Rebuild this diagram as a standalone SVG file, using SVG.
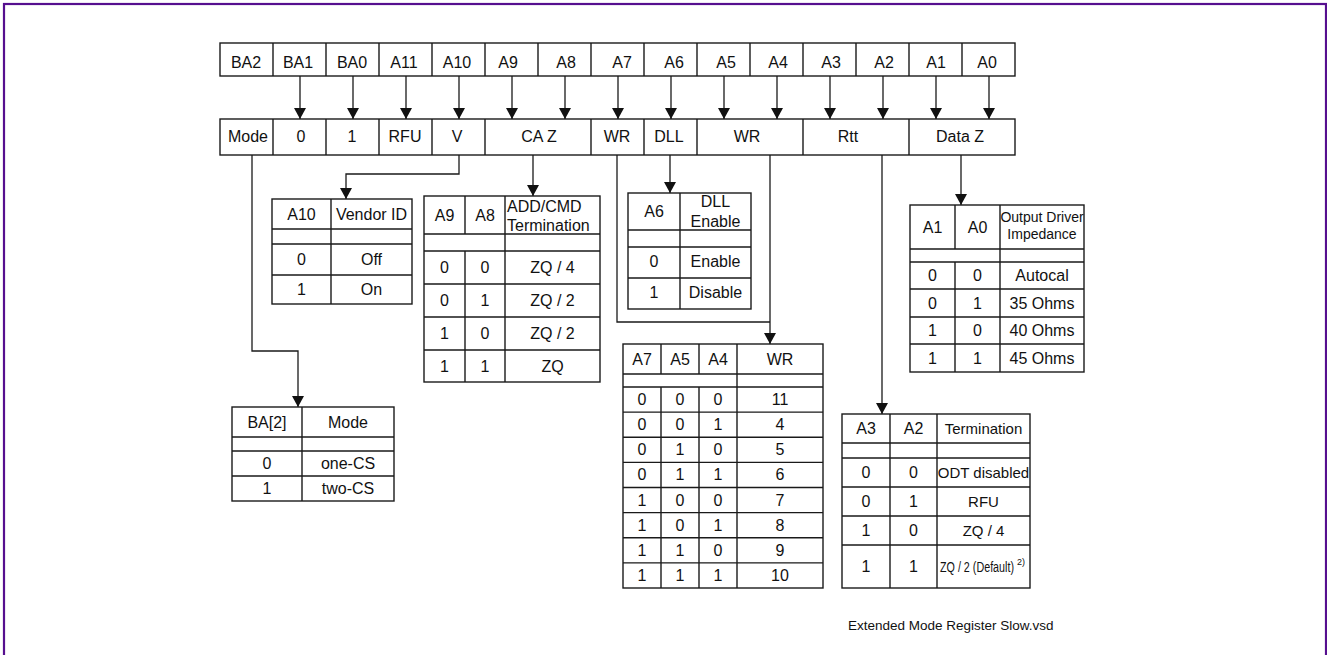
<svg xmlns="http://www.w3.org/2000/svg" width="1327" height="655" viewBox="0 0 1327 655">
<style>
.t{font-family:"Liberation Sans",Arial,sans-serif;font-size:16px;fill:#111;text-anchor:middle}
.ts{font-family:"Liberation Sans",Arial,sans-serif;font-size:16px;fill:#111;text-anchor:start}
.sm{font-size:15px}
.hd{font-size:14px}
.ft{font-family:"Liberation Sans",Arial,sans-serif;font-size:13.5px;fill:#111}
.b{fill:#fff;stroke:#1a1a1a;stroke-width:1.4}
.l{fill:none;stroke:#1a1a1a;stroke-width:1.4}
.c{fill:none;stroke:#1a1a1a;stroke-width:1.3}
.ca{fill:none;stroke:#1a1a1a;stroke-width:1.3;marker-end:url(#ah)}
</style>
<defs>
<marker id="ah" viewBox="0 0 11 12" refX="11" refY="6" markerWidth="11" markerHeight="12" markerUnits="userSpaceOnUse" orient="auto">
<path d="M0,0 L11,6 L0,12 z" fill="#111"/>
</marker>
</defs>
<rect width="1327" height="655" fill="#fff"/>
<rect x="4" y="4" width="1322" height="700" fill="none" stroke="#560f8f" stroke-width="2.2"/>

<g id="address-row">
<rect class="b" x="220" y="43" width="795" height="33"/>
<path class="l" d="M273,43V76M326,43V76M379,43V76M432,43V76M485,43V76M538,43V76M591,43V76M644,43V76M697,43V76M750,43V76M803,43V76M856,43V76M909,43V76M962,43V76"/>
<text class="t" x="246" y="68">BA2</text>
<text class="t" x="298" y="68">BA1</text>
<text class="t" x="352" y="68">BA0</text>
<text class="t" x="404" y="68">A11</text>
<text class="t" x="457" y="68">A10</text>
<text class="t" x="508" y="68">A9</text>
<text class="t" x="566" y="68">A8</text>
<text class="t" x="622" y="68">A7</text>
<text class="t" x="674" y="68">A6</text>
<text class="t" x="726" y="68">A5</text>
<text class="t" x="778" y="68">A4</text>
<text class="t" x="831" y="68">A3</text>
<text class="t" x="884" y="68">A2</text>
<text class="t" x="936" y="68">A1</text>
<text class="t" x="987" y="68">A0</text>
</g>

<g id="function-row">
<rect class="b" x="220" y="119" width="795" height="36"/>
<path class="l" d="M273,119V155M326,119V155M379,119V155M432,119V155M485,119V155M591,119V155M644,119V155M697,119V155M803,119V155M909,119V155"/>
<text class="t" x="248" y="142">Mode</text>
<text class="t" x="301" y="142">0</text>
<text class="t" x="352" y="142">1</text>
<text class="t" x="405" y="142">RFU</text>
<text class="t" x="457" y="142">V</text>
<text class="t" x="539" y="142">CA Z</text>
<text class="t" x="617" y="142">WR</text>
<text class="t" x="669" y="142">DLL</text>
<text class="t" x="747" y="142">WR</text>
<text class="t" x="848" y="142">Rtt</text>
<text class="t" x="960" y="142">Data Z</text>
</g>

<g id="connectors">
<path class="ca" d="M300,76V119"/>
<path class="ca" d="M353,76V119"/>
<path class="ca" d="M406,76V119"/>
<path class="ca" d="M459,76V119"/>
<path class="ca" d="M512,76V119"/>
<path class="ca" d="M565,76V119"/>
<path class="ca" d="M618,76V119"/>
<path class="ca" d="M671,76V119"/>
<path class="ca" d="M724,76V119"/>
<path class="ca" d="M777,76V119"/>
<path class="ca" d="M830,76V119"/>
<path class="ca" d="M883,76V119"/>
<path class="ca" d="M936,76V119"/>
<path class="ca" d="M989,76V119"/>
<path class="ca" d="M252,155V351H298V407"/>
<path class="ca" d="M459,155V174H346V199"/>
<path class="ca" d="M533,155V196"/>
<path class="c" d="M617,155V322H770"/>
<path class="ca" d="M770,155V344"/>
<path class="ca" d="M670,155V193"/>
<path class="ca" d="M882,155V414"/>
<path class="ca" d="M961,155V205"/>
</g>

<g id="vendor-table">
<rect class="b" x="272" y="199" width="140" height="105"/>
<path class="l" d="M272,229H412M272,244H412M272,275H412M331,199V304"/>
<text class="t" x="301.5" y="220">A10</text>
<text class="t" x="371.5" y="220">Vendor ID</text>
<text class="t" x="301.5" y="265">0</text>
<text class="t" x="371.5" y="265">Off</text>
<text class="t" x="301.5" y="295">1</text>
<text class="t" x="371.5" y="295">On</text>
</g>

<g id="addcmd-table">
<rect class="b" x="424" y="196" width="176" height="186"/>
<path class="l" d="M424,234H600M424,251H600M424,284H600M424,317H600M424,350H600M465,196V234M465,251V382M505,196V382"/>
<text class="t" x="444.5" y="221">A9</text>
<text class="t" x="485" y="221">A8</text>
<text class="ts" x="507" y="212">ADD/CMD</text>
<text class="ts" x="507" y="231">Termination</text>
<text class="t" x="444.5" y="273">0</text><text class="t" x="485" y="273">0</text><text class="t" x="552.5" y="273">ZQ / 4</text>
<text class="t" x="444.5" y="306">0</text><text class="t" x="485" y="306">1</text><text class="t" x="552.5" y="306">ZQ / 2</text>
<text class="t" x="444.5" y="339">1</text><text class="t" x="485" y="339">0</text><text class="t" x="552.5" y="339">ZQ / 2</text>
<text class="t" x="444.5" y="372">1</text><text class="t" x="485" y="372">1</text><text class="t" x="552.5" y="372">ZQ</text>
</g>

<g id="dll-table">
<rect class="b" x="628" y="193" width="123" height="116"/>
<path class="l" d="M628,230H751M628,247H751M628,278H751M680,193V309"/>
<text class="t" x="654" y="217">A6</text>
<text class="t" x="715.5" y="207">DLL</text>
<text class="t" x="715.5" y="227">Enable</text>
<text class="t" x="654" y="267">0</text><text class="t" x="715.5" y="267">Enable</text>
<text class="t" x="654" y="298">1</text><text class="t" x="715.5" y="298">Disable</text>
</g>

<g id="wr-table">
<rect class="b" x="623" y="344" width="200" height="244"/>
<path class="l" d="M623,374H823M623,387H823M623,412.1H823M623,437.3H823M623,462.4H823M623,487.5H823M623,512.6H823M623,537.8H823M623,562.9H823M661,344V374M661,387V588M699,344V374M699,387V588M737,344V588"/>
<text class="t" x="642" y="365">A7</text>
<text class="t" x="680" y="365">A5</text>
<text class="t" x="718" y="365">A4</text>
<text class="t" x="780" y="365">WR</text>
<text class="t" x="642" y="405">0</text><text class="t" x="680" y="405">0</text><text class="t" x="718" y="405">0</text><text class="t" x="780" y="405">11</text>
<text class="t" x="642" y="430">0</text><text class="t" x="680" y="430">0</text><text class="t" x="718" y="430">1</text><text class="t" x="780" y="430">4</text>
<text class="t" x="642" y="455">0</text><text class="t" x="680" y="455">1</text><text class="t" x="718" y="455">0</text><text class="t" x="780" y="455">5</text>
<text class="t" x="642" y="480">0</text><text class="t" x="680" y="480">1</text><text class="t" x="718" y="480">1</text><text class="t" x="780" y="480">6</text>
<text class="t" x="642" y="506">1</text><text class="t" x="680" y="506">0</text><text class="t" x="718" y="506">0</text><text class="t" x="780" y="506">7</text>
<text class="t" x="642" y="531">1</text><text class="t" x="680" y="531">0</text><text class="t" x="718" y="531">1</text><text class="t" x="780" y="531">8</text>
<text class="t" x="642" y="556">1</text><text class="t" x="680" y="556">1</text><text class="t" x="718" y="556">0</text><text class="t" x="780" y="556">9</text>
<text class="t" x="642" y="581">1</text><text class="t" x="680" y="581">1</text><text class="t" x="718" y="581">1</text><text class="t" x="780" y="581">10</text>
</g>

<g id="mode-table">
<rect class="b" x="232" y="407" width="162" height="94"/>
<path class="l" d="M232,437H394M232,451H394M232,476H394M302,407V501"/>
<text class="t" x="267" y="428">BA[2]</text>
<text class="t" x="348" y="428">Mode</text>
<text class="t" x="267" y="469">0</text><text class="t" x="348" y="469">one-CS</text>
<text class="t" x="267" y="494">1</text><text class="t" x="348" y="494">two-CS</text>
</g>

<g id="driver-table">
<rect class="b" x="910" y="205" width="174" height="167"/>
<path class="l" d="M910,249H1084M910,262H1084M910,289H1084M910,317H1084M910,344H1084M955,205V249M955,262V372M1000,205V372"/>
<text class="t" x="932.5" y="233">A1</text>
<text class="t" x="977.5" y="233">A0</text>
<text class="t hd" x="1042" y="222">Output Driver</text>
<text class="t hd" x="1042" y="239">Impedance</text>
<text class="t" x="932.5" y="281">0</text><text class="t" x="977.5" y="281">0</text><text class="t" x="1042" y="281">Autocal</text>
<text class="t" x="932.5" y="309">0</text><text class="t" x="977.5" y="309">1</text><text class="t" x="1042" y="309">35 Ohms</text>
<text class="t" x="932.5" y="336">1</text><text class="t" x="977.5" y="336">0</text><text class="t" x="1042" y="336">40 Ohms</text>
<text class="t" x="932.5" y="364">1</text><text class="t" x="977.5" y="364">1</text><text class="t" x="1042" y="364">45 Ohms</text>
</g>

<g id="rtt-table">
<rect class="b" x="842" y="414" width="188" height="174"/>
<path class="l" d="M842,443H1030M842,458H1030M842,487H1030M842,516H1030M842,545H1030M890,414V588M937,414V588"/>
<text class="t" x="866" y="434">A3</text>
<text class="t" x="913.5" y="434">A2</text>
<text class="t sm" x="983.5" y="434">Termination</text>
<text class="t" x="866" y="478">0</text><text class="t" x="913.5" y="478">0</text><text class="t sm" x="983.5" y="478">ODT disabled</text>
<text class="t" x="866" y="507">0</text><text class="t" x="913.5" y="507">1</text><text class="t sm" x="983.5" y="507">RFU</text>
<text class="t" x="866" y="536">1</text><text class="t" x="913.5" y="536">0</text><text class="t sm" x="983.5" y="536">ZQ / 4</text>
<text class="t" x="866" y="572">1</text><text class="t" x="913.5" y="572">1</text>
<text class="ts" x="940" y="572"><tspan style="font-size:14px" textLength="74" lengthAdjust="spacingAndGlyphs">ZQ / 2 (Default)</tspan><tspan dx="3" dy="-7" style="font-size:9px">2)</tspan></text>
</g>

<text class="ft" x="848" y="630">Extended Mode Register Slow.vsd</text>
</svg>
